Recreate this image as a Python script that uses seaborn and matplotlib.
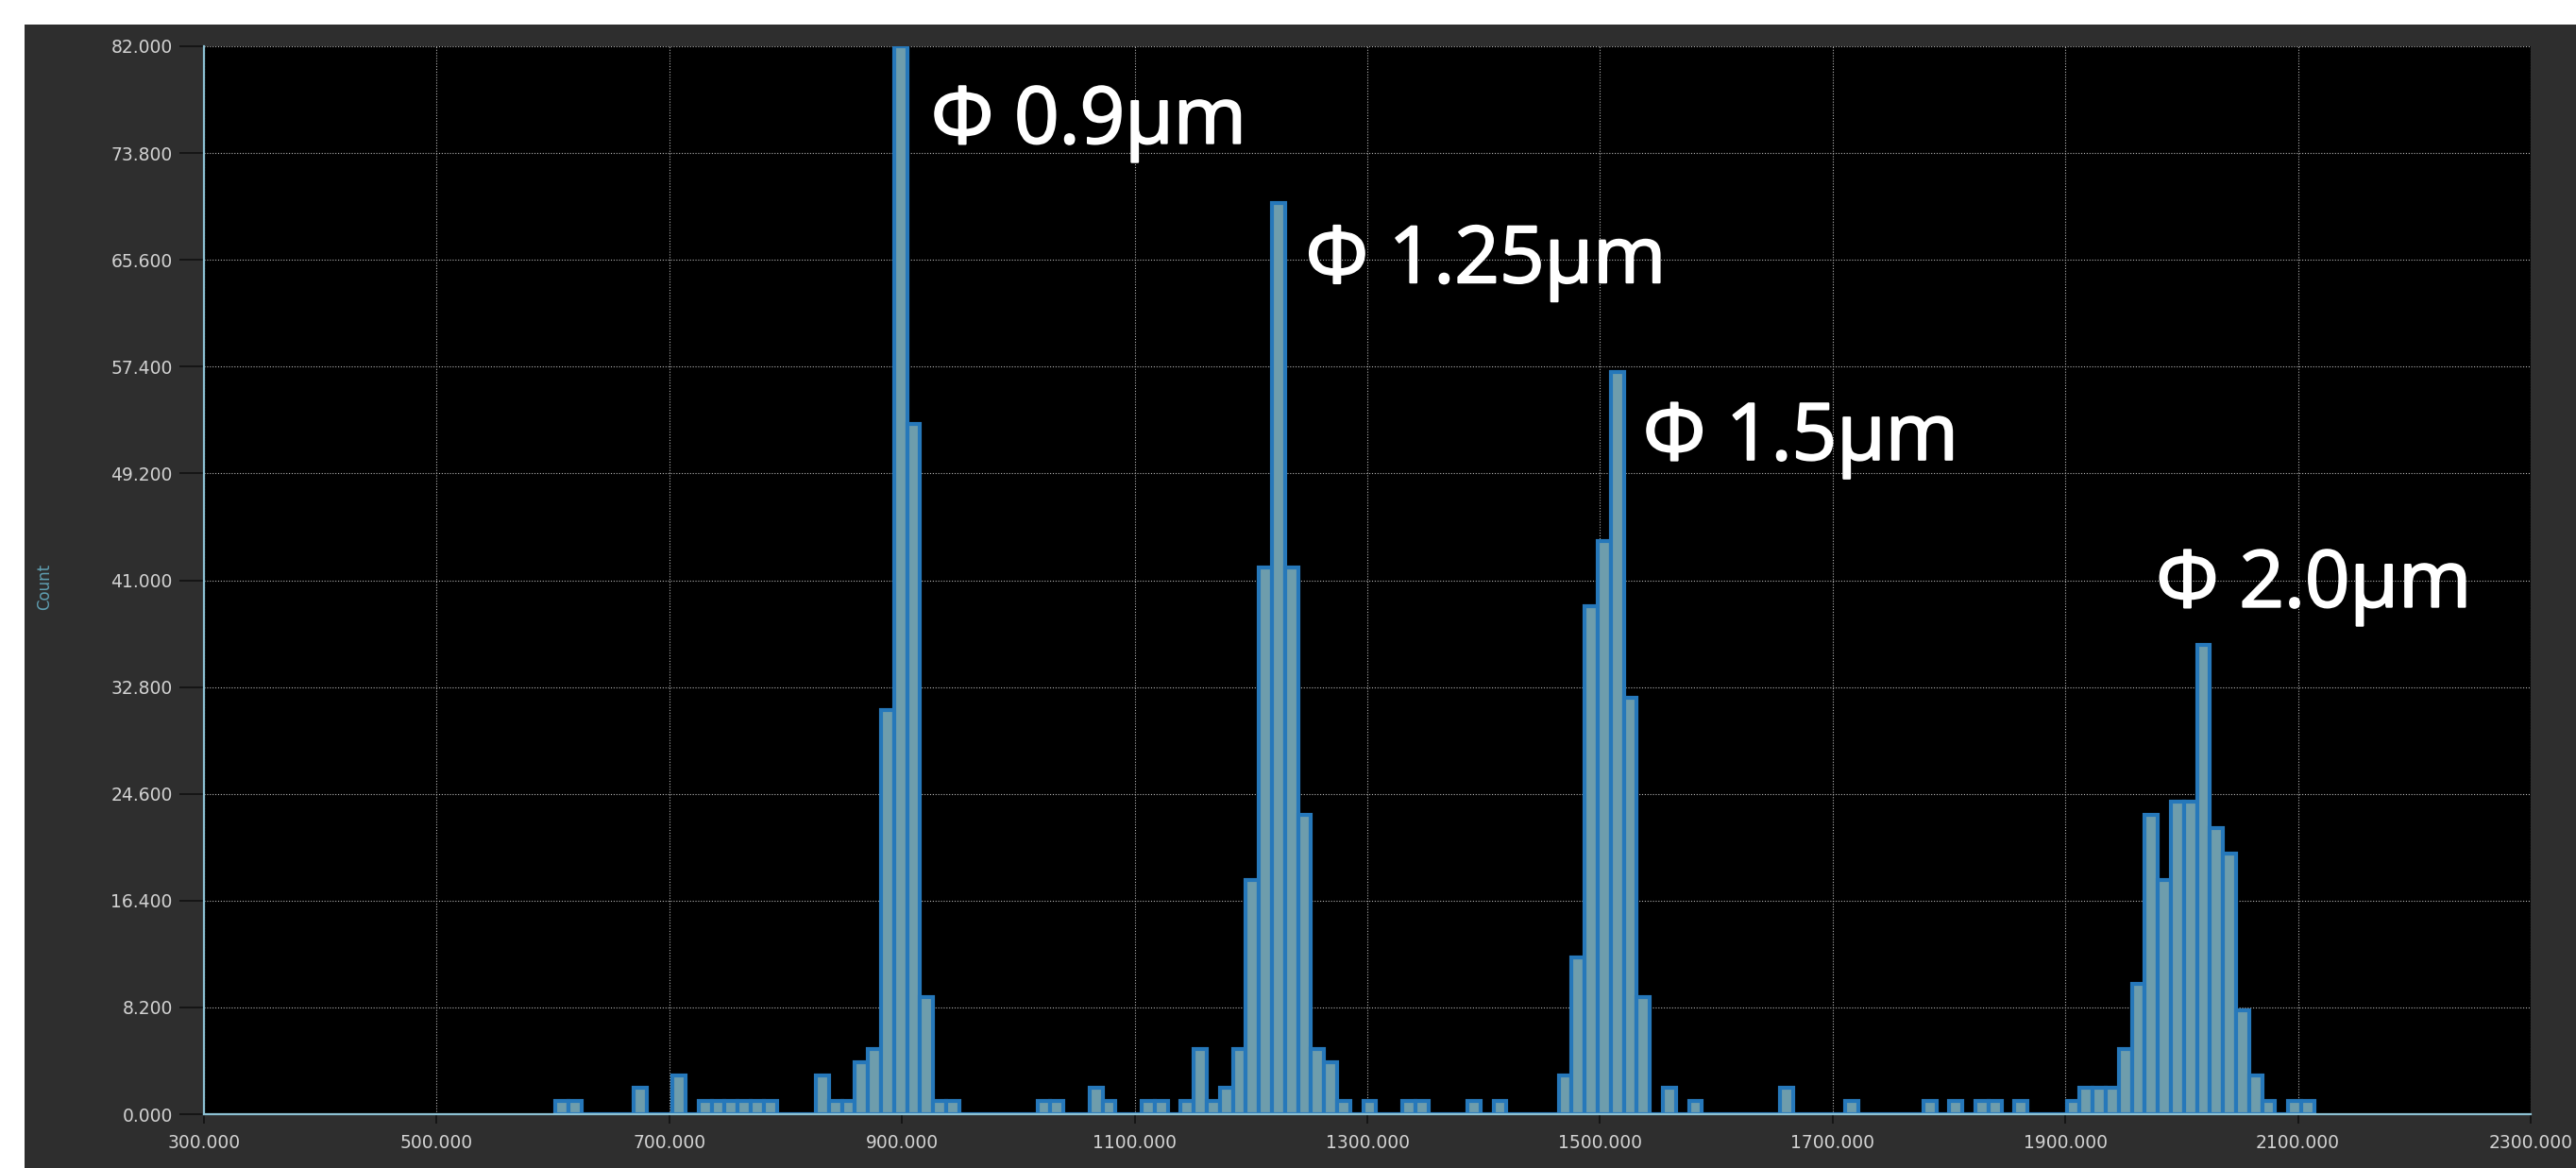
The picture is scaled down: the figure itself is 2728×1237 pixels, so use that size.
import numpy as np
import pandas as pd
import matplotlib
matplotlib.use("Agg")
import matplotlib.pyplot as plt
import matplotlib.patheffects as pe
from matplotlib.patches import Rectangle
import seaborn as sns

# bin centers (particle size) and counts, only non-empty bins
sizes = [607.6, 618.8, 674.8, 708.4, 730.8, 742.0, 753.2, 764.4, 775.6, 786.8,
         831.6, 842.8, 854.0, 865.2, 876.4, 887.6, 898.8, 910.0, 921.2, 932.4, 943.6,
         1022.0, 1033.2, 1066.8, 1078.0, 1111.6, 1122.8, 1145.2, 1156.4, 1167.6,
         1178.8, 1190.0, 1201.2, 1212.4, 1223.6, 1234.8, 1246.0, 1257.2, 1268.4,
         1279.6, 1302.0, 1335.6, 1346.8, 1391.6, 1414.0,
         1470.0, 1481.2, 1492.4, 1503.6, 1514.8, 1526.0, 1537.2, 1559.6, 1582.0,
         1660.4, 1716.4, 1783.6, 1806.0, 1828.4, 1839.6, 1862.0,
         1906.8, 1918.0, 1929.2, 1940.4, 1951.6, 1962.8, 1974.0, 1985.2, 1996.4,
         2007.6, 2018.8, 2030.0, 2041.2, 2052.4, 2063.6, 2074.8, 2097.2, 2108.4]
counts = [1, 1, 2, 3, 1, 1, 1, 1, 1, 1,
          3, 1, 1, 4, 5, 31, 82, 53, 9, 1, 1,
          1, 1, 2, 1, 1, 1, 1, 5, 1,
          2, 5, 18, 42, 70, 42, 23, 5, 4,
          1, 1, 1, 1, 1, 1,
          3, 12, 39, 44, 57, 32, 9, 2, 1,
          2, 1, 1, 1, 1, 1, 1,
          1, 2, 2, 2, 5, 10, 23, 18, 24,
          24, 36, 22, 20, 8, 3, 1, 1, 1]

x_ticks = [300, 500, 700, 900, 1100, 1300, 1500, 1700, 1900, 2100, 2300]
y_ticks = [0, 8.2, 16.4, 24.6, 32.8, 41.0, 49.2, 57.4, 65.6, 73.8, 82.0]

labels = ["Φ 0.9μm", "Φ 1.25μm", "Φ 1.5μm", "Φ 2.0μm"]
label_x = [925, 1247, 1537, 1978]
label_y = [76.1, 65.4, 51.8, 40.5]

df = pd.DataFrame({"size": sizes, "count": counts})

fig = plt.figure(figsize=(27.28, 12.37), dpi=100, facecolor="white")
# dark panel behind the plot (white strip on top and left)
fig.patches.append(Rectangle((26 / 2728, 0), 1, 1 - 26 / 1237, transform=fig.transFigure,
                             facecolor="#2e2e2e", edgecolor="none", zorder=-10))

ax = fig.add_axes([216 / 2728, 57 / 1237, 2464 / 2728, 1131 / 1237])
ax.set_facecolor("black")

# instrument binning: 135 bins of 11.2 between 602 and 2114
sns.histplot(data=df, x="size", weights="count", binwidth=11.2, binrange=(602.0, 2114.0),
             ax=ax, color="#6e9dac", edgecolor="#2678ba", linewidth=3.0, alpha=1.0,
             zorder=3)

ax.set_xlim(300, 2300)
ax.set_ylim(0, 82)
ax.set_xticks(x_ticks)
ax.set_xticklabels([f"{v:.3f}" for v in x_ticks])
ax.set_yticks(y_ticks)
ax.set_yticklabels([f"{v:.3f}" for v in y_ticks])

ax.grid(True, color="#b4b4b4", linestyle=(0, (1, 1.6)), linewidth=0.8, zorder=1)
ax.set_axisbelow(True)

for s in ["top", "right"]:
    ax.spines[s].set_visible(False)
for s in ["left", "bottom"]:
    ax.spines[s].set_color("#8cc0d2")
    ax.spines[s].set_linewidth(1.6)
    ax.spines[s].set_zorder(4)

ax.tick_params(axis="y", colors="#111111", labelcolor="#d2d2d2", length=19, width=1.2,
               pad=5, labelsize=13.5)
ax.tick_params(axis="x", colors="#111111", labelcolor="#d2d2d2", length=7, width=1.2,
               pad=8, labelsize=13.5)
ax.set_xlabel("")
ax.set_ylabel("")
fig.text(47 / 2728, 1 - 621 / 1237, "Count", rotation=90, ha="center", va="center",
         color="#5f9fb2", fontsize=12)

for txt, lx, ly in zip(labels, label_x, label_y):
    ax.text(lx, ly, txt, ha="left", va="center", color="white", fontsize=60,
            family=["Open Sans", "DejaVu Sans"], zorder=5,
            path_effects=[pe.withStroke(linewidth=1.5, foreground="white")])

fig.savefig("out.png", dpi=100, facecolor=fig.get_facecolor())
